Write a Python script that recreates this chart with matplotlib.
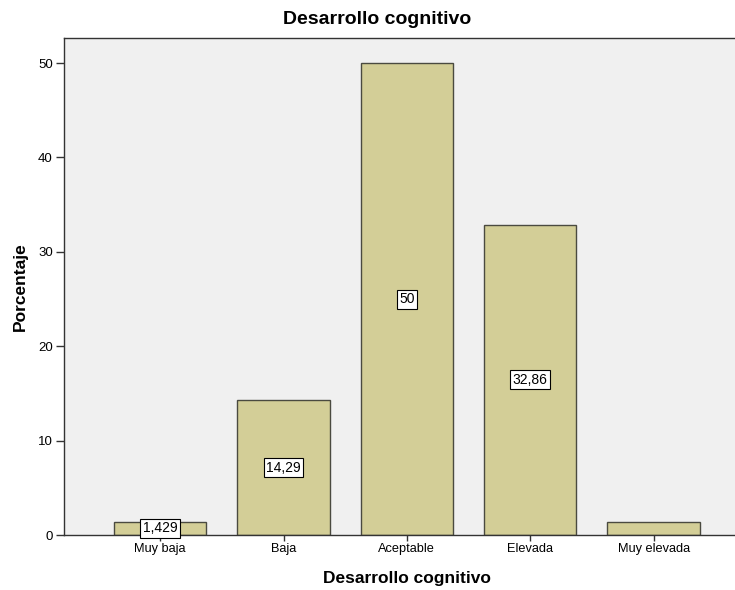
import matplotlib
matplotlib.use("Agg")
import matplotlib.pyplot as plt

plt.rcParams['font.family'] = ['Liberation Sans', 'DejaVu Sans']

categories = ['Muy baja', 'Baja', 'Aceptable', 'Elevada', 'Muy elevada']
percentages = [1.429, 14.29, 50, 32.86, 1.429]
bar_labels = ['1,429', '14,29', '50', '32,86', None]
y_ticks = [0, 10, 20, 30, 40, 50]

fig = plt.figure(figsize=(7.35, 5.9), dpi=100)
# plot frame runs past the right edge of the canvas
ax = fig.add_axes([0.0871, 0.0932, 0.933, 0.8424])
ax.set_facecolor('#F0F0F0')

x = range(len(categories))
ax.bar(x, percentages, width=0.75, color='#D3CE97', edgecolor='#4A4A40', linewidth=1.0)

for xi, val, lab in zip(x, percentages, bar_labels):
    if lab is None:
        continue
    ax.text(xi, val / 2, lab, ha='center', va='center', fontsize=10,
            bbox=dict(boxstyle='square,pad=0.18', facecolor='white', edgecolor='black', linewidth=0.8))

ax.set_xlim(-0.78, 4.78)
ax.set_ylim(0, 52.65)
ax.set_xticks(list(x))
ax.set_xticklabels(categories, fontsize=9.2)
ax.set_yticks(y_ticks)
ax.set_yticklabels([str(t) for t in y_ticks], fontsize=9.5)
ax.tick_params(axis='x', length=4, width=1, color='#333333', pad=2)
ax.tick_params(axis='y', length=6, width=1, color='#333333', pad=2)
for side in ax.spines.values():
    side.set_color('#333333')
    side.set_linewidth(1)

ax.set_xlabel('Desarrollo cognitivo', fontsize=12.5, fontweight='bold')
ax.xaxis.set_label_coords((407 - 64) / 686, -(571 - 535) / 497)
ax.set_ylabel('Porcentaje', fontsize=12.5, fontweight='bold')
ax.yaxis.set_label_coords(-(64 - 28) / 686, 0.5)
fig.text(377 / 735, 1 - 20 / 590, 'Desarrollo cognitivo', ha='center', va='center',
         fontsize=14, fontweight='bold')

fig.savefig('out.png', dpi=100)
